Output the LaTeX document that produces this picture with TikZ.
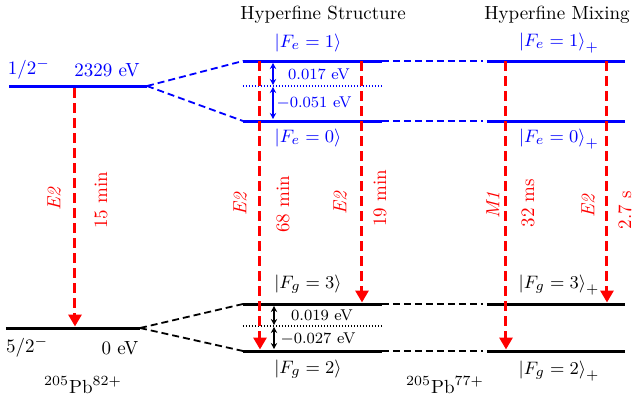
\documentclass[tikz,border=0pt]{standalone}
\usetikzlibrary{arrows.meta}

\definecolor{hfblue}{RGB}{0,0,255}
\definecolor{hfred}{RGB}{255,0,0}

\begin{document}
\begin{tikzpicture}[x=0.5pt, y=-0.5pt, font=\fontsize{9.5}{11}\selectfont,
    lvl/.style={line width=1.5pt},
    lnk/.style={line width=0.9pt, dash pattern=on 3.5pt off 2pt},
    midline/.style={line width=0.7pt, dash pattern=on 0.7pt off 0.8pt},
    split/.style={line width=0.6pt, {Stealth[length=3pt,width=3.2pt]}-{Stealth[length=3pt,width=3.2pt]}},
    decay/.style={hfred, line width=1.5pt, dash pattern=on 5pt off 2.5pt, -{Triangle[length=6pt,width=6.5pt]}},
    tlabel/.style={hfred, rotate=90},
    gaplabel/.style={font=\fontsize{7.8}{9}\selectfont}]

    \clip (0,0) rectangle (634,402);

    % --- Bare ion 205Pb82+ (left) ---
    \coordinate (iso-l) at (9,86);  \coordinate (iso-r) at (147,86);
    \coordinate (gs-l) at (6,328);  \coordinate (gs-r) at (140,328);
    \draw[lvl, hfblue] (iso-l) -- (iso-r);
    \draw[lvl] (gs-l) -- (gs-r);
    \node[hfblue] (iso-spin) at (29,69) {1/2$^{-}$};
    \node[hfblue] (iso-en) at (107,70) {2329 eV};
    \node (gs-spin) at (27,347) {5/2$^{-}$};
    \node (gs-en) at (120,348) {0 eV};
    \node (ion82) at (83,385) {$^{205}$Pb$^{82+}$};

    % --- Hyperfine structure (middle) ---
    \node (hfs-title) at (323,15) {Hyperfine Structure};
    \coordinate (e1-l) at (243,61);  \coordinate (e1-r) at (382,61);
    \coordinate (ec-l) at (243,86);  \coordinate (ec-r) at (382,86);
    \coordinate (e0-l) at (243,121); \coordinate (e0-r) at (382,121);
    \coordinate (g3-l) at (243,304); \coordinate (g3-r) at (382,304);
    \coordinate (gc-l) at (243,326); \coordinate (gc-r) at (382,326);
    \coordinate (g2-l) at (243,351); \coordinate (g2-r) at (382,351);
    \draw[lvl, hfblue] (e1-l) -- (e1-r);
    \draw[lvl, hfblue] (e0-l) -- (e0-r);
    \draw[midline, hfblue] (ec-l) -- (ec-r);
    \draw[lvl] (g3-l) -- (g3-r);
    \draw[lvl] (g2-l) -- (g2-r);
    \draw[midline] (gc-l) -- (gc-r);

    \node[hfblue] (ke1) at (308,43) {$\left|F_e=1\right\rangle$};
    \node[hfblue] (ke0) at (308,138) {$\left|F_e=0\right\rangle$};
    \node (kg3) at (308,284) {$\left|F_g=3\right\rangle$};
    \node (kg2) at (308,369) {$\left|F_g=2\right\rangle$};

    % splittings from the centroid
    \coordinate (es1) at (273,63);  \coordinate (es2) at (273,85);
    \coordinate (es3) at (273,87);  \coordinate (es4) at (273,119);
    \draw[split, hfblue] (es1) -- (es2);
    \draw[split, hfblue] (es3) -- (es4);
    \node[gaplabel, hfblue] (de1) at (319,74) {0.017 eV};
    \node[gaplabel, hfblue] (de0) at (314,103) {$-$0.051 eV};
    \coordinate (gs1) at (274,306); \coordinate (gs2) at (274,325);
    \coordinate (gs3) at (274,327); \coordinate (gs4) at (274,349);
    \draw[split] (gs1) -- (gs2);
    \draw[split] (gs3) -- (gs4);
    \node[gaplabel] (dg3) at (322,315) {0.019 eV};
    \node[gaplabel] (dg2) at (318,339) {$-$0.027 eV};

    % --- Hyperfine mixing (right) ---
    \node (hfm-title) at (557,15) {Hyperfine Mixing};
    \coordinate (pe1-l) at (487,61);  \coordinate (pe1-r) at (625,61);
    \coordinate (pe0-l) at (487,121); \coordinate (pe0-r) at (625,121);
    \coordinate (pg3-l) at (487,304); \coordinate (pg3-r) at (625,304);
    \coordinate (pg2-l) at (487,351); \coordinate (pg2-r) at (625,351);
    \draw[lvl, hfblue] (pe1-l) -- (pe1-r);
    \draw[lvl, hfblue] (pe0-l) -- (pe0-r);
    \draw[lvl] (pg3-l) -- (pg3-r);
    \draw[lvl] (pg2-l) -- (pg2-r);

    \node[hfblue] (pke1) at (559,43) {$\left|F_e=1\right\rangle_+$};
    \node[hfblue] (pke0) at (559,139) {$\left|F_e=0\right\rangle_+$};
    \node (pkg3) at (559,285) {$\left|F_g=3\right\rangle_+$};
    \node (pkg2) at (559,371) {$\left|F_g=2\right\rangle_+$};
    \node (ion77) at (445,385) {$^{205}$Pb$^{77+}$};

    % --- Dashed links between the columns ---
    \coordinate (pe1-in) at (483,61);  \coordinate (pe0-in) at (483,121);
    \coordinate (pg3-in) at (483,304); \coordinate (pg2-in) at (483,351);
    \draw[lnk, hfblue] (iso-r) -- (e1-l);
    \draw[lnk, hfblue] (iso-r) -- (e0-l);
    \draw[lnk] (gs-r) -- (g3-l);
    \draw[lnk] (gs-r) -- (g2-l);
    \draw[lnk, hfblue, line width=0.7pt] (e1-r) -- (pe1-in);
    \draw[lnk, hfblue, line width=0.7pt] (e0-r) -- (pe0-in);
    \draw[lnk, line width=0.7pt] (g3-r) -- (pg3-in);
    \draw[lnk, line width=0.7pt] (g2-r) -- (pg2-in);

    % --- Decays ---
    \coordinate (d0-a) at (75,88);   \coordinate (d0-b) at (75,326.5);
    \coordinate (d1-a) at (260,61);  \coordinate (d1-b) at (260,349.5);
    \coordinate (d2-a) at (362,61);  \coordinate (d2-b) at (362,302.5);
    \coordinate (d3-a) at (506,61);  \coordinate (d3-b) at (506,349.5);
    \coordinate (d4-a) at (607,61);  \coordinate (d4-b) at (607,302.5);
    \draw[decay] (d0-a) -- (d0-b);
    \draw[decay] (d1-a) -- (d1-b);
    \draw[decay] (d2-a) -- (d2-b);
    \draw[decay] (d3-a) -- (d3-b);
    \draw[decay] (d4-a) -- (d4-b);

    \node[tlabel] (m0) at (54,199) {\textit{E2}};
    \node[tlabel] (t0) at (101,200) {15 min};
    \node[tlabel] (m1) at (240,204) {\textit{E2}};
    \node[tlabel] (t1) at (283,204) {68 min};
    \node[tlabel] (m2) at (340,203) {\textit{E2}};
    \node[tlabel] (t2) at (380,198) {19 min};
    \node[tlabel] (m3) at (493,205) {\textit{M1}};
    \node[tlabel] (t3) at (528,203) {32 ms};
    \node[tlabel] (m4) at (588,206) {\textit{E2}};
    \node[tlabel, inner sep=1pt] (t4) at (625,210) {2.7 s};

\end{tikzpicture}
\end{document}
